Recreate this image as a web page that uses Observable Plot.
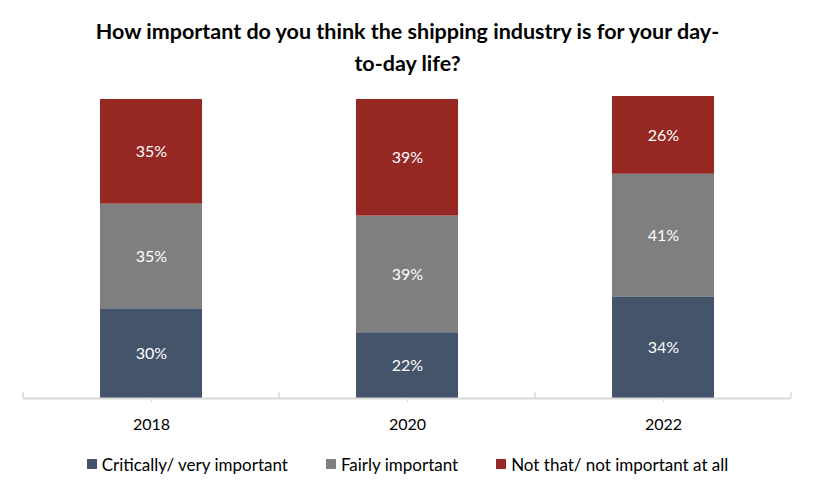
<!DOCTYPE html>
<html>
<head>
<meta charset="utf-8">
<script src="https://cdn.jsdelivr.net/npm/d3@7"></script>
<script src="https://cdn.jsdelivr.net/npm/@observablehq/plot@0.6"></script>
<style>
  body { margin: 0; background: #fff; width: 815px; font-family: Lato, "Open Sans", sans-serif; }
  #title { box-sizing: border-box; height: 80px; padding-top: 15px; text-align: center; font-weight: bold; font-size: 21.5px; line-height: 32px; color: #000; }
  #legend { height: 38px; display: flex; justify-content: center; align-items: center; font-size: 17px; color: #000; gap: 38px; }
  #legend .item { display: flex; align-items: center; gap: 5px; }
  #legend .sw { width: 10px; height: 10px; display: inline-block; }
  svg { display: block; }
</style>
</head>
<body>
<div id="title">How important do you think the shipping industry is for your day-<br>to-day life?</div>
<div id="chart"></div>
<div id="legend"></div>
<script>
const years = ["2018", "2020", "2022"];
const seriesNames = ["Critically/ very important", "Fairly important", "Not that/ not important at all"];
const critical = [30, 22, 34];
const fairly = [35, 39, 41];
const notImportant = [35, 39, 26];
const colors = ["#44546A", "#7F7F7F", "#962823"];

const seriesValues = [critical, fairly, notImportant];
const data = [];
seriesNames.forEach((s, i) => years.forEach((y, j) => data.push({year: y, series: s, value: seriesValues[i][j]})));

const boundaryTicks = (index, scales, values, dims, context) => {
  const x = scales.x;
  const gap = (x.step() - x.bandwidth()) / 2;
  const xs = x.domain().map(d => x(d) - gap);
  xs.push(x(x.domain()[x.domain().length - 1]) + x.bandwidth() + gap);
  const y0 = scales.y(0);
  const g = d3.create("svg:g");
  g.selectAll("line").data(xs).join("line")
    .attr("x1", d => d).attr("x2", d => d)
    .attr("y1", y0).attr("y2", y0 - 6)
    .attr("stroke", "#d9d9d9").attr("stroke-width", 1.5);
  return g.node();
};

const chart = Plot.plot({
  width: 815,
  height: 365,
  marginTop: 19,
  marginBottom: 47,
  marginLeft: 23,
  marginRight: 24,
  style: {fontFamily: "Lato, 'Open Sans', sans-serif", background: "#fff"},
  x: {domain: years, paddingInner: 0.6, paddingOuter: 0.3, label: null},
  y: {domain: [0, 100], axis: null},
  color: {domain: seriesNames, range: colors},
  marks: [
    Plot.barY(data, Plot.stackY({x: "year", y: "value", fill: "series", order: seriesNames})),
    Plot.text(data, Plot.stackY({x: "year", y: "value", z: "series", order: seriesNames, text: d => d.value + "%", fill: "white", fontSize: 16})),
    Plot.ruleY([0], {stroke: "#d9d9d9", strokeWidth: 2}),
    Plot.axisX({tickSize: 4, tickPadding: 16, stroke: "#d9d9d9", fontSize: 16, color: "#000", fill: "#000"}),
    boundaryTicks
  ]
});
document.getElementById("chart").appendChild(chart);

const legend = d3.select("#legend");
seriesNames.forEach((s, i) => {
  const item = legend.append("div").attr("class", "item");
  item.append("span").attr("class", "sw").style("background", colors[i]);
  item.append("span").text(s);
});
</script>
</body>
</html>
